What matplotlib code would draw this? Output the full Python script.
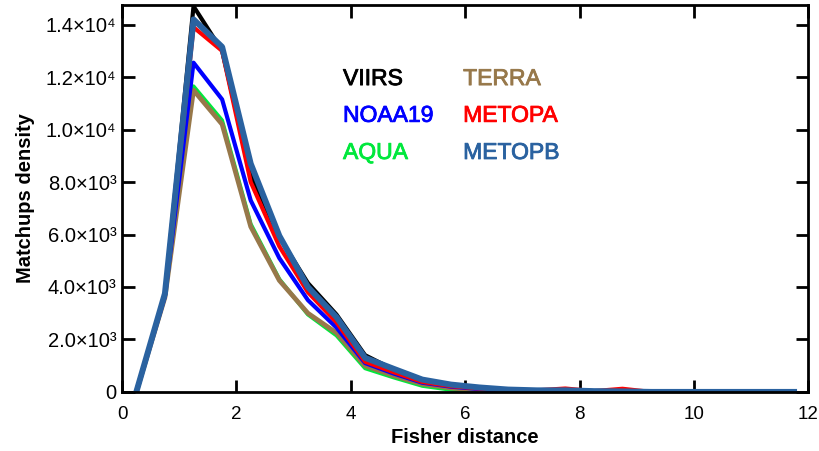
import numpy as np
import matplotlib
matplotlib.use("Agg")
import matplotlib.pyplot as plt
import matplotlib.patheffects as pe
from matplotlib.ticker import FixedLocator, FixedFormatter

plt.rcParams['font.family'] = ['Liberation Sans', 'DejaVu Sans']

# bin centres (Fisher distance)
x = [0.25, 0.75, 1.25, 1.75, 2.25, 2.75, 3.25, 3.75, 4.25, 4.75, 5.25, 5.75,
     6.25, 6.75, 7.25, 7.75, 8.25, 8.75, 9.25, 9.75, 10.25, 10.75, 11.25, 11.75]

viirs = [0, 3700, 14700, 13000, 8300, 5900, 4150, 2950, 1400, 850, 450, 250,
         150, 80, 50, 30, 20, 10, 5, 0, 0, 0, 0, 0]
aqua = [0, 3700, 11650, 10350, 6400, 4300, 2950, 2150, 900, 550, 230, 80,
        40, 20, 10, 0, 0, 0, 0, 0, 0, 0, 0, 0]
terra = [0, 3600, 11500, 10200, 6300, 4250, 3000, 2250, 1000, 620, 300, 150,
         60, 20, 10, 0, 0, 0, 0, 0, 0, 0, 0, 0]
noaa19 = [0, 3650, 12550, 11150, 7300, 5100, 3500, 2450, 1100, 700, 350, 200,
          110, 20, 30, 40, 20, 10, 0, 0, 0, 0, 0, 0]
metopa = [0, 3700, 13900, 13000, 8000, 5550, 3800, 2650, 1150, 750, 380, 220,
          130, 80, 60, 130, 30, 120, 0, 0, 0, 0, 0, 0]
metopb = [0, 3750, 14200, 13150, 8700, 5950, 4000, 2850, 1300, 880, 470, 280,
          170, 90, 60, 60, 30, 20, 0, 0, 0, 0, 0, 0]

yticks = [0, 2000, 4000, 6000, 8000, 10000, 12000, 14000]
ylabels = ['0', '2.0×10³', '4.0×10³', '6.0×10³', '8.0×10³',
           '1.0×10⁴', '1.2×10⁴', '1.4×10⁴']

fig = plt.figure(figsize=(8.19, 4.51), dpi=100)
ax = fig.add_axes([0.149, 0.131, 0.838, 0.858])

ax.plot(x, viirs, color='black', lw=3.0)
ax.plot(x, aqua, color='#00e83c', lw=2.8)
ax.plot(x, terra, color='#97784a', lw=3.4)
ax.plot(x, noaa19, color='#0000ff', lw=3.0)
ax.plot(x, metopa, color='#ff0000', lw=3.0)
ax.plot(x, metopb, color='#2a62a0', lw=4.3)

ax.set_xlim(0, 12)
ax.set_ylim(0, 14750)
ax.set_xticks([0, 2, 4, 6, 8, 10, 12])
ax.yaxis.set_major_locator(FixedLocator(yticks))
ax.yaxis.set_major_formatter(FixedFormatter(ylabels))
ax.tick_params(direction='in', top=True, right=True, length=9, width=2)
ax.tick_params(axis='x', pad=10, labelsize=13.5)
ax.tick_params(axis='y', pad=4, labelsize=14.5)
for s in ax.spines.values():
    s.set_linewidth(2)

ax.set_xlabel('Fisher distance', fontsize=14.5, fontweight='bold', labelpad=4)
ax.set_ylabel('Matchups density', fontsize=14.5, fontweight='bold', labelpad=8)

# legend as coloured text
names = [('VIIRS', 'black'), ('NOAA19', '#0000ff'), ('AQUA', '#00e83c'),
         ('TERRA', '#97784a'), ('METOPA', '#ff0000'), ('METOPB', '#2a62a0')]
rows = [0.793, 0.698, 0.602]
cols = [0.322, 0.497]
for i, (name, c) in enumerate(names):
    ax.text(cols[i // 3], rows[i % 3], name, color=c, fontsize=16.5,
            transform=ax.transAxes, va='baseline', ha='left',
            path_effects=[pe.withStroke(linewidth=0.6, foreground=c)])

fig.savefig('out.png', dpi=100)
